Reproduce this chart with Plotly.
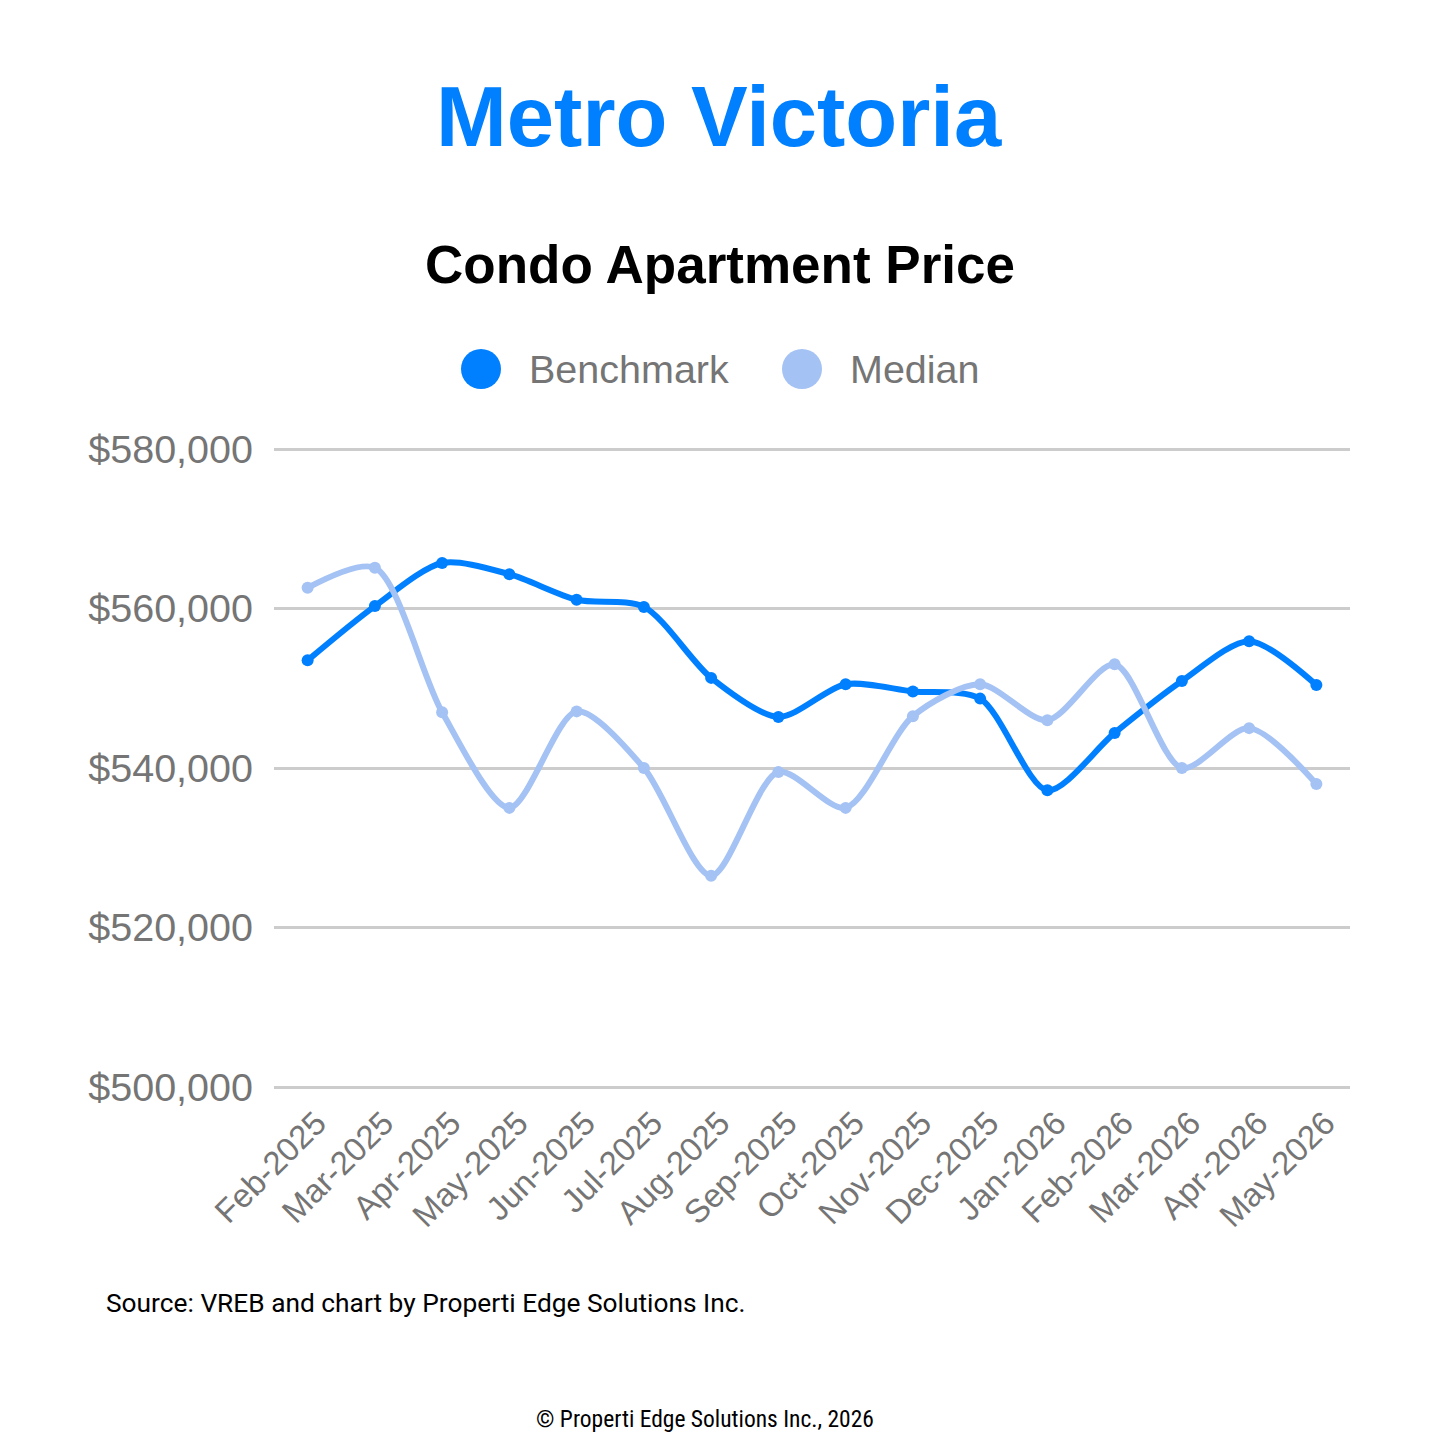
import plotly.graph_objects as go

months = ["Feb-2025", "Mar-2025", "Apr-2025", "May-2025", "Jun-2025", "Jul-2025",
          "Aug-2025", "Sep-2025", "Oct-2025", "Nov-2025", "Dec-2025", "Jan-2026",
          "Feb-2026", "Mar-2026", "Apr-2026", "May-2026"]
benchmark = [553500, 560300, 565700, 564300, 561100, 560200, 551300, 546400,
             550500, 549600, 548700, 537200, 544400, 550900, 555900, 550400]
median = [562600, 565100, 547000, 535000, 547100, 540000, 526500, 539500,
          535000, 546500, 550500, 546000, 553000, 540000, 545000, 538000]
y_ticks = [500000, 520000, 540000, 560000, 580000]
y_tick_text = ["$500,000", "$520,000", "$540,000", "$560,000", "$580,000"]

BLUE = "#0080FF"
LIGHT = "#A4C2F4"
GRAY = "#757575"

# page body has an 8px default margin; work in reference page coords and shift
OFF = 8
W, H = 1440 - OFF, 1440 - OFF
PAD = 4  # pixels of extra y-range above 580k and below 500k so edge gridlines show
plot_left, plot_right = 274 - OFF, 1350 - OFF
plot_top, plot_bottom = 449 - OFF - PAD, 1087 - OFF + PAD
ML, MR, MT, MB = plot_left, W - plot_right, plot_top, H - plot_bottom
PW, PH = plot_right - plot_left, plot_bottom - plot_top
units_per_px = 80000 / 638.0
y_lo, y_hi = 500000 - PAD * units_per_px, 580000 + PAD * units_per_px
n = len(months)
label_shift = 9 * n / PW  # shift tick labels ~9px to the right


def px(x):
    return (x - OFF - ML) / PW


def py(y):
    return (plot_bottom - (y - OFF)) / PH


fig = go.Figure()
fig.add_trace(go.Scatter(x=months, y=benchmark, name="Benchmark", mode="lines+markers",
                         line=dict(color=BLUE, width=6, shape="spline", smoothing=0.8),
                         marker=dict(color=BLUE, size=12)))
fig.add_trace(go.Scatter(x=months, y=median, name="Median", mode="lines+markers",
                         line=dict(color=LIGHT, width=6, shape="spline", smoothing=0.8),
                         marker=dict(color=LIGHT, size=12)))
# invisible helper trace so the label axis is drawn
fig.add_trace(go.Scatter(x=[0], y=[None], xaxis="x2", mode="markers", showlegend=False,
                         hoverinfo="skip", marker=dict(opacity=0)))

shapes = []
annotations = []
# manual legend (large circular keys)
for cx, tx, color, label in [(481, 527, BLUE, "Benchmark"), (802, 848, LIGHT, "Median")]:
    shapes.append(dict(type="circle", xref="paper", yref="paper",
                       xsizemode="pixel", ysizemode="pixel",
                       xanchor=px(cx), yanchor=py(369),
                       x0=-20, x1=20, y0=-20, y1=20,
                       fillcolor=color, line=dict(width=0)))
    annotations.append(dict(text=label, xref="paper", yref="paper", x=px(tx), y=py(369),
                            xanchor="left", yanchor="middle", showarrow=False,
                            font=dict(family="Liberation Sans, Arial", size=39.5, color=GRAY)))

annotations += [
    dict(text="<b>Metro Victoria</b>", xref="paper", yref="paper", x=px(719), y=py(117),
         xanchor="center", yanchor="middle", showarrow=False,
         font=dict(family="Liberation Sans, Arial", size=85, color=BLUE)),
    dict(text="<b>Condo Apartment Price</b>", xref="paper", yref="paper", x=px(720), y=py(265),
         xanchor="center", yanchor="middle", showarrow=False,
         font=dict(family="Liberation Sans, Arial", size=53, color="#000000")),
    dict(text="Source: VREB and chart by Properti Edge Solutions Inc.", xref="paper", yref="paper",
         x=px(104), y=py(1303), xanchor="left", yanchor="middle", showarrow=False,
         font=dict(family="Roboto", size=26.3, color="#000000")),
    dict(text="© Properti Edge Solutions Inc., 2026", xref="paper", yref="paper",
         x=px(705), y=py(1419), xanchor="center", yanchor="middle", showarrow=False,
         font=dict(family="Roboto Condensed, Liberation Sans Narrow, DejaVu Sans Condensed, Roboto",
                   size=23.5, color="#000000")),
]

fig.update_layout(
    width=W, height=H,
    margin=dict(l=ML, r=MR, t=MT, b=MB),
    paper_bgcolor="white", plot_bgcolor="white",
    showlegend=False,
    shapes=shapes,
    annotations=annotations,
    xaxis=dict(type="category", range=[-0.5, n - 0.5], showgrid=False,
               showline=False, zeroline=False, ticks="", showticklabels=False),
    xaxis2=dict(type="linear", overlaying="x", side="bottom", anchor="y",
                range=[-0.5 - label_shift, n - 0.5 - label_shift],
                tickvals=list(range(n)), ticktext=months,
                showgrid=False, showline=False, zeroline=False, ticks="", tickangle=-45,
                ticklabelstandoff=5,
                tickfont=dict(family="Liberation Sans, Arial", size=33, color=GRAY)),
    yaxis=dict(range=[y_lo, y_hi], tickvals=y_ticks, ticktext=y_tick_text,
               showgrid=True, gridcolor="#CCCCCC", gridwidth=2.5, zeroline=False,
               showline=False, ticks="", ticklabelstandoff=20,
               tickfont=dict(family="Liberation Sans, Arial", size=39.5, color=GRAY)),
)

fig.write_html("out.html")
